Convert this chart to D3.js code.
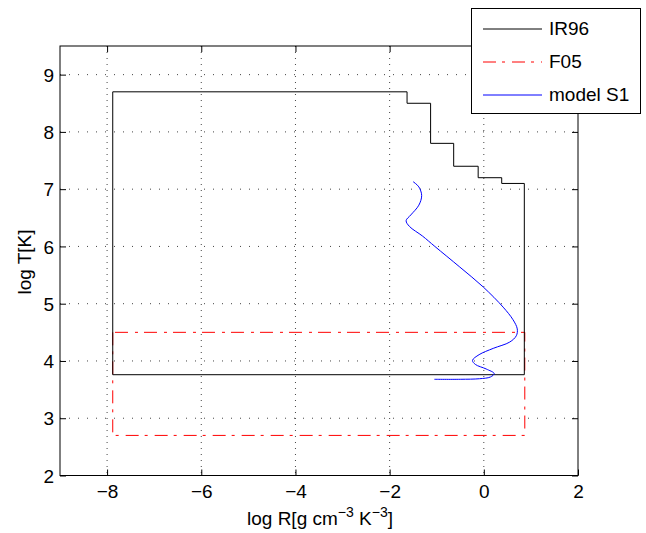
<!DOCTYPE html>
<html>
<head>
<meta charset="utf-8">
<script src="https://cdn.jsdelivr.net/npm/d3@7"></script>
<style>
  body { margin: 0; background: #fff; }
  text { font-family: "Liberation Sans", Arial, sans-serif; fill: #000; }
</style>
</head>
<body>
<div id="chart"></div>
<script>
// tick values
const xTicks = [-8, -6, -4, -2, 0, 2];
const yTicks = [2, 3, 4, 5, 6, 7, 8, 9];

// IR96 table outline (logR, logT)
const ir96R = [-7.88, -7.88, 0.86, 0.86, 0.38, 0.38, -0.12, -0.12, -0.64, -0.64, -1.13, -1.13, -1.63, -1.63, -7.88];
const ir96T = [8.7, 3.76, 3.76, 7.1, 7.1, 7.2, 7.2, 7.4, 7.4, 7.8, 7.8, 8.5, 8.5, 8.7, 8.7];

// F05 table outline
const f05R = [-7.88, -7.88, 0.87, 0.87, -7.88];
const f05T = [4.5, 2.7, 2.7, 4.5, 4.5];

// model S1 track
const s1R = [-1.50, -1.38, -1.32, -1.38, -1.55, -1.65, -1.58, -1.30, -1.04, -0.51, -0.01, 0.41, 0.62, 0.71, 0.69, 0.55, 0.20, -0.10, -0.24, -0.18, 0.05, 0.22, 0.14, -0.09, -0.50, -1.05];
const s1T = [7.13, 7.04, 6.89, 6.72, 6.55, 6.45, 6.35, 6.18, 6.00, 5.64, 5.29, 4.94, 4.72, 4.56, 4.44, 4.33, 4.22, 4.11, 4.01, 3.94, 3.86, 3.78, 3.72, 3.69, 3.68, 3.68];

const legendNames = ["IR96", "F05", "model S1"];
const legendColors = ["#000", "#ff0000", "#0000ff"];

const W = 646, H = 533;
const FS = 19;
const svg = d3.select("#chart").append("svg").attr("width", W).attr("height", H);

const x = d3.scaleLinear().domain([-9, 2]).range([60, 578]);
const y = d3.scaleLinear().domain([2, 9.5]).range([475.5, 46]);

const g = svg.append("g");

// grid
g.selectAll("line.vgrid").data(xTicks.filter(d => d > -9 && d < 2)).enter()
  .append("line")
  .attr("x1", d => x(d)).attr("x2", d => x(d))
  .attr("y1", y(9.5)).attr("y2", y(2))
  .attr("stroke", "#444").attr("stroke-width", 1)
  .attr("stroke-dasharray", "1,5");
g.selectAll("line.hgrid").data(yTicks.filter(d => d > 2)).enter()
  .append("line")
  .attr("x1", x(-9)).attr("x2", x(2))
  .attr("y1", d => y(d)).attr("y2", d => y(d))
  .attr("stroke", "#444").attr("stroke-width", 1)
  .attr("stroke-dasharray", "1,8");

const line = d3.line().x(d => x(d[0])).y(d => y(d[1]));

g.append("path")
  .attr("d", line(d3.zip(f05R, f05T)))
  .attr("fill", "none").attr("stroke", "#ff0000").attr("stroke-width", 1)
  .attr("stroke-dasharray", "13,6,3,7");

g.append("path")
  .attr("d", line(d3.zip(ir96R, ir96T)))
  .attr("fill", "none").attr("stroke", "#000").attr("stroke-width", 1);

g.append("path")
  .attr("d", d3.line().x(d => x(d[0])).y(d => y(d[1])).curve(d3.curveCatmullRom)(d3.zip(s1R, s1T)))
  .attr("fill", "none").attr("stroke", "#0000ff").attr("stroke-width", 1);

// axes (MATLAB style: ticks inside, box)
const xAxisB = d3.axisBottom(x).tickValues(xTicks).tickSizeInner(-6).tickSizeOuter(0)
  .tickFormat(d => d < 0 ? "\u2212" + Math.abs(d) : d);
const gx = svg.append("g").attr("transform", `translate(0,${y(2)})`).call(xAxisB);
gx.selectAll("text").attr("y", 22.5).attr("dy", 0).attr("font-size", FS).attr("font-family", "Liberation Sans, Arial, sans-serif");
const gxt = svg.append("g").attr("transform", `translate(0,${y(9.5)})`)
  .call(d3.axisTop(x).tickValues(xTicks).tickSizeInner(-6).tickSizeOuter(0).tickFormat(""));

const yAxisL = d3.axisLeft(y).tickValues(yTicks).tickSizeInner(-6).tickSizeOuter(0);
const gy = svg.append("g").attr("transform", `translate(${x(-9)},0)`).call(yAxisL);
gy.selectAll("text").attr("x", -6).attr("dy", "0.35em").attr("font-size", FS).attr("font-family", "Liberation Sans, Arial, sans-serif");
const gyr = svg.append("g").attr("transform", `translate(${x(2)},0)`)
  .call(d3.axisRight(y).tickValues(yTicks).tickSizeInner(-6).tickSizeOuter(0).tickFormat(""));

[gx, gxt, gy, gyr].forEach(a => {
  a.select(".domain").remove();
  a.selectAll("line").attr("stroke", "#000");
});
svg.append("rect")
  .attr("x", x(-9)).attr("y", y(9.5))
  .attr("width", x(2) - x(-9)).attr("height", y(2) - y(9.5))
  .attr("fill", "none").attr("stroke", "#000").attr("stroke-width", 1);

// axis labels
const xl = svg.append("text").attr("x", 320).attr("y", 525).attr("text-anchor", "middle").attr("font-size", FS);
xl.append("tspan").text("log R[g cm");
xl.append("tspan").attr("dy", -8).attr("font-size", 14).text("\u22123");
xl.append("tspan").attr("dy", 8).text(" K");
xl.append("tspan").attr("dy", -8).attr("font-size", 14).text("\u22123");
xl.append("tspan").attr("dy", 8).text("]");

svg.append("text")
  .attr("transform", `translate(31,262) rotate(-90)`)
  .attr("text-anchor", "middle").attr("font-size", FS)
  .text("log T[K]");

// legend
const lg = svg.append("g");
lg.append("rect").attr("x", 471.5).attr("y", 8.5).attr("width", 169).attr("height", 105)
  .attr("fill", "#fff").attr("stroke", "#000").attr("stroke-width", 1);
legendNames.forEach((name, i) => {
  const ly = 29 + i * 33;
  lg.append("line").attr("x1", 483).attr("x2", 542).attr("y1", ly).attr("y2", ly)
    .attr("stroke", legendColors[i]).attr("stroke-width", 1)
    .attr("stroke-dasharray", i === 1 ? "13,6,3,7" : null);
  lg.append("text").attr("x", 549).attr("y", ly + 6).attr("font-size", FS).text(name);
});
</script>
</body>
</html>
